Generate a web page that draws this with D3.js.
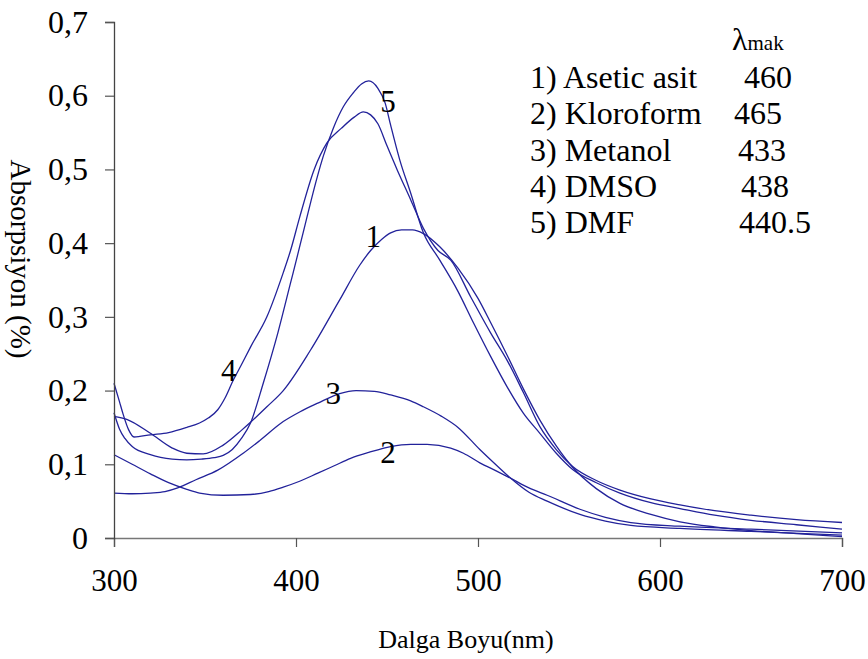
<!DOCTYPE html>
<html>
<head>
<meta charset="utf-8">
<script src="https://cdn.jsdelivr.net/npm/d3@7/dist/d3.min.js"></script>
<style>
  html, body { margin: 0; padding: 0; background: #fff; }
  svg { display: block; }
  svg text { font-family: 'Liberation Serif', Tinos, 'Times New Roman', 'DejaVu Serif', serif; fill: #000; }
</style>
</head>
<body>
<svg id="chart" width="868" height="659"></svg>
<script>
// ---- data ----
const xTicks = [300, 400, 500, 600, 700];
const yTicks = [0, 0.1, 0.2, 0.3, 0.4, 0.5, 0.6, 0.7];
const yTickLabels = ["0", "0,1", "0,2", "0,3", "0,4", "0,5", "0,6", "0,7"];

const legendNames = ["1) Asetic asit", "2) Kloroform", "3) Metanol", "4) DMSO", "5) DMF"];
const legendLambda = ["460", "465", "433", "438", "440.5"];
const curveLabels = ["1", "2", "3", "4", "5"];

// 1) Asetic asit
const series1 = [[300,0.165],[307,0.161],[320,0.142],[332,0.122],[340,0.115],[349,0.114],[360,0.126],[370,0.146],[375,0.157],[384,0.178],[393,0.2],[408,0.255],[424,0.323],[435,0.37],[441,0.39],[447,0.405],[452,0.414],[458,0.418],[464,0.418],[470,0.413],[479,0.395],[489,0.366],[500,0.325],[507,0.292],[516,0.248],[525,0.202],[534,0.16],[543,0.125],[552,0.096],[565,0.067],[578,0.047],[595,0.032],[611,0.022],[630,0.015],[650,0.01],[675,0.006],[700,0.002]];
// 2) Kloroform
const series2 = [[300,0.113],[310,0.1],[320,0.087],[330,0.075],[340,0.066],[347,0.061],[360,0.058],[375,0.059],[385,0.063],[393,0.069],[402,0.077],[412,0.088],[421,0.098],[430,0.108],[440,0.116],[452,0.124],[463,0.127],[472,0.127],[485,0.122],[492,0.115],[501,0.102],[510,0.091],[518,0.081],[528,0.068],[538,0.058],[556,0.039],[570,0.028],[584,0.021],[611,0.016],[650,0.012],[700,0.007]];
// 3) Metanol
const series3 = [[300,0.061],[310,0.06],[320,0.061],[328,0.063],[335,0.068],[345,0.079],[357,0.092],[371,0.115],[380,0.132],[393,0.158],[402,0.171],[412,0.183],[424,0.196],[433,0.2],[443,0.199],[452,0.194],[463,0.186],[470,0.178],[480,0.165],[489,0.15],[501,0.12],[510,0.099],[518,0.081],[528,0.062],[538,0.05],[556,0.032],[570,0.023],[584,0.017],[611,0.013],[650,0.009],[700,0.004]];
// 4) DMSO
const series4 = [[300,0.21],[303,0.185],[305,0.168],[308,0.147],[311,0.137],[320,0.14],[330,0.143],[340,0.15],[347,0.156],[352,0.163],[357,0.174],[361,0.19],[365.5,0.214],[370,0.235],[375,0.259],[384,0.3],[393,0.36],[397,0.39],[402,0.435],[410,0.5],[417,0.536],[425,0.556],[432,0.571],[437,0.578],[441,0.574],[445,0.562],[450,0.532],[455.5,0.5],[463,0.459],[470,0.42],[478,0.39],[485,0.377],[496,0.327],[507,0.278],[516,0.241],[525,0.197],[534,0.151],[543,0.12],[552,0.097],[565,0.078],[578,0.065],[595,0.053],[611,0.045],[630,0.037],[650,0.031],[675,0.025],[700,0.021]];
// 5) DMF
const series5 = [[300,0.17],[303,0.148],[306,0.135],[310,0.124],[320,0.113],[332,0.107],[340,0.106],[348,0.107],[355,0.109],[360,0.112],[365,0.12],[370,0.135],[375,0.156],[382,0.21],[390,0.278],[397,0.346],[401,0.385],[404,0.415],[411.7,0.49],[415,0.518],[420.5,0.556],[426,0.585],[431.5,0.604],[436,0.616],[440,0.62],[445,0.61],[449,0.59],[452,0.56],[457,0.513],[463,0.468],[470,0.414],[479,0.377],[488.7,0.336],[497.5,0.292],[507,0.246],[516,0.205],[525,0.169],[534,0.142],[543,0.115],[552,0.093],[565,0.075],[578,0.061],[595,0.048],[611,0.04],[630,0.031],[650,0.024],[675,0.018],[700,0.012]];

const seriesList = [series1, series2, series3, series4, series5];
const curveLabelPos = [[442.5, 0.41], [450.5, 0.116], [420.5, 0.197], [363, 0.228], [450.5, 0.593]];

// ---- layout ----
const FONT = "'Liberation Serif', Tinos, 'Times New Roman', 'DejaVu Serif', serif";
const svg = d3.select("#chart");
const x = d3.scaleLinear().domain([300, 700]).range([114, 842]);
const y = d3.scaleLinear().domain([0, 0.7]).range([538, 22]);
const lineColor = "#22229a";

// lines
const line = d3.line().x(d => x(d[0])).y(d => y(d[1])).curve(d3.curveMonotoneX);
svg.append("g").selectAll("path").data(seriesList).join("path")
  .attr("d", line)
  .attr("fill", "none")
  .attr("stroke", lineColor)
  .attr("stroke-width", 1.3);

// x axis
const xAxis = d3.axisBottom(x).tickValues(xTicks).tickSize(9).tickPadding(22).tickFormat(d3.format("d"));
const gx = svg.append("g").attr("transform", `translate(0,${y(0)})`).call(xAxis)
  .attr("font-family", FONT);
gx.select(".domain").attr("stroke", "#777").attr("stroke-width", 1.4);
gx.selectAll(".tick line").attr("stroke", "#555").attr("stroke-width", 1.2);
gx.selectAll(".tick text").attr("font-family", FONT).attr("font-size", 31).attr("fill", "#000");

// y axis
const yAxis = d3.axisLeft(y).tickValues(yTicks).tickSize(9).tickPadding(17)
  .tickFormat((d, i) => yTickLabels[i]);
const gy = svg.append("g").attr("transform", `translate(${x(300)},0)`).call(yAxis)
  .attr("font-family", FONT);
gy.select(".domain").attr("stroke", "#444").attr("stroke-width", 1.3);
gy.selectAll(".tick line").attr("stroke", "#555").attr("stroke-width", 1.2);
gy.selectAll(".tick text").attr("font-family", FONT).attr("font-size", 32).attr("fill", "#000");

// axis titles
svg.append("text").attr("x", 466).attr("y", 648).attr("text-anchor", "middle")
  .attr("font-family", FONT).attr("font-size", 26).text("Dalga Boyu(nm)");
svg.append("text").attr("transform", "translate(11,259) rotate(90)").attr("text-anchor", "middle")
  .attr("font-family", FONT).attr("font-size", 29).text("Absorpsiyon (%)");

// curve labels
svg.append("g").selectAll("text").data(curveLabels).join("text")
  .attr("x", (d, i) => x(curveLabelPos[i][0]))
  .attr("y", (d, i) => y(curveLabelPos[i][1]) + 11)
  .attr("text-anchor", "middle")
  .attr("font-family", FONT).attr("font-size", 31)
  .text(d => d);

// legend
const lg = svg.append("g").attr("font-family", FONT);
const lamb = lg.append("text").attr("x", 732).attr("y", 50).attr("font-size", 32);
lamb.append("tspan").text("λ");
lamb.append("tspan").attr("font-size", 21).text("mak");
const valueX = [744, 734, 738, 741, 739];
lg.selectAll("text.name").data(legendNames).join("text").attr("class", "name")
  .attr("x", 530).attr("y", (d, i) => 88 + i * 36.3)
  .attr("font-size", 32).text(d => d);
lg.selectAll("text.val").data(legendLambda).join("text").attr("class", "val")
  .attr("x", (d, i) => valueX[i]).attr("y", (d, i) => 88 + i * 36.3)
  .attr("font-size", 32).text(d => d);
</script>
</body>
</html>
